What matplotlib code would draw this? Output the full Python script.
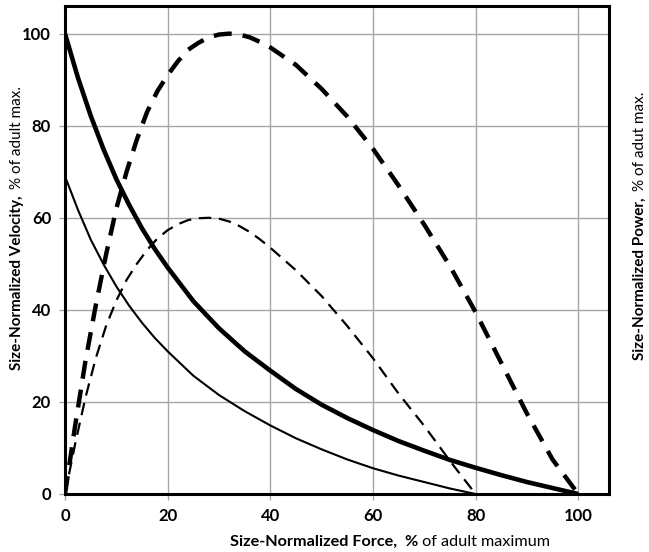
import matplotlib
matplotlib.use("Agg")
import matplotlib.pyplot as plt

plt.rcParams['font.family'] = ['Lato', 'DejaVu Sans']
plt.rcParams['lines.scale_dashes'] = False

# velocity curves
force_adult = [0, 2.5, 5, 7.5, 10, 12.5, 15, 17.5, 20, 25, 30, 35, 40, 45, 50,
               55, 60, 65, 70, 75, 80, 85, 90, 95, 100]
vel_adult = [100, 90.5, 82.2, 74.9, 68.4, 62.8, 57.7, 53.2, 49.2, 41.9, 36.0,
             31.0, 26.8, 22.8, 19.4, 16.5, 13.9, 11.5, 9.4, 7.4, 5.7, 4.1,
             2.6, 1.3, 0]

force_young = [0, 2.5, 5, 7.5, 10, 12.5, 15, 17.5, 20, 25, 30, 35, 40, 45, 50,
               55, 60, 65, 70, 75, 80]
vel_young = [69, 61.8, 55.3, 49.9, 45.1, 40.9, 37.2, 33.9, 31.0, 25.7, 21.5,
             18.0, 14.9, 12.1, 9.7, 7.5, 5.6, 4.0, 2.6, 1.2, 0]

# power curves
pforce_adult = [0, 2, 4, 6, 8, 10, 12, 14, 16, 18, 20, 22, 24, 26, 28, 30, 32,
                34, 36, 38, 40, 45, 50, 55, 60, 65, 70, 75, 80, 85, 90, 95, 100]
pow_adult = [0, 15, 29, 41, 52, 62, 70, 77, 83, 87.5, 91, 94, 96.5, 98, 99.2,
             99.8, 100, 99.8, 99.2, 98.2, 97, 93.2, 88, 82, 75, 67, 58.5, 49.5,
             39.5, 28.5, 17.5, 7.5, 0]

pforce_young = [0, 2, 4, 6, 8, 10, 12, 14, 16, 18, 20, 22, 24, 26, 28, 30, 32,
                34, 36, 38, 40, 45, 50, 55, 60, 65, 70, 75, 80]
pow_young = [0, 11, 21, 29.5, 36.5, 42, 46.5, 50, 53, 55.5, 57.3, 58.6, 59.5,
             59.9, 60, 59.8, 59.2, 58.2, 56.9, 55.3, 53.5, 48.6, 43, 36.5, 29.5,
             21.8, 14.8, 7.2, 0]

ticks = [0, 20, 40, 60, 80, 100]

fig = plt.figure(figsize=(6.49, 5.52), dpi=100)
ax = fig.add_axes([65/649, 1 - 494/552, (609 - 65)/649, (494 - 6)/552])

ax.plot(force_adult, vel_adult, color='black', lw=3.3, solid_capstyle='butt', zorder=3)
ax.plot(force_young, vel_young, color='black', lw=1.5, zorder=3)
ax.plot(pforce_adult, pow_adult, color='black', lw=3.2, dashes=(13, 8), zorder=3)
ax.plot(pforce_young, pow_young, color='black', lw=1.6, dashes=(9, 5.5), zorder=3)

ax.set_xlim(0, 106)
ax.set_ylim(0, 106)
ax.set_xticks(ticks)
ax.set_yticks(ticks)
ax.grid(True, color='#a6a6a6', lw=1.0)
ax.set_axisbelow(True)
for s in ax.spines.values():
    s.set_linewidth(2.2)
    s.set_color('black')
ax.tick_params(length=4, width=1, color='#a6a6a6', labelsize=12, pad=6)
for lab in ax.get_xticklabels() + ax.get_yticklabels():
    lab.set_fontweight('bold')

# axis titles with a bold part and a normal part
fs = 11
t1 = fig.text(230/649, 1 - 546/552, 'Size-Normalized Force,  %', fontsize=11.7,
              fontweight='bold', ha='left', va='baseline')
t2 = fig.text(0, 0, '', fontsize=11.7)
tl1 = fig.text(21/649, 1 - 370/552, 'Size-Normalized Velocity,', fontsize=fs,
               fontweight='bold', rotation=90, rotation_mode='anchor',
               ha='left', va='baseline')
tr1 = fig.text(644/649, 1 - 360/552, 'Size-Normalized Power,', fontsize=fs,
               fontweight='bold', rotation=90, rotation_mode='anchor',
               ha='left', va='baseline')

fig.canvas.draw()
r = fig.canvas.get_renderer()
inv = fig.transFigure.inverted()

bb = t1.get_window_extent(r)
x_end = inv.transform((bb.x1, bb.y0))[0]
t2.set_position((x_end, 1 - 546/552))
t2.set_text(' of adult maximum')
t2.set_va('baseline')

bb = tl1.get_window_extent(r)
y_end = inv.transform((bb.x0, bb.y1))[1]
fig.text(21/649, y_end + 6/552, '% of adult max.', fontsize=fs, rotation=90,
         rotation_mode='anchor', ha='left', va='baseline')

bb = tr1.get_window_extent(r)
y_end = inv.transform((bb.x0, bb.y1))[1]
fig.text(644/649, y_end + 6/552, '% of adut max.', fontsize=fs, rotation=90,
         rotation_mode='anchor', ha='left', va='baseline')

fig.savefig('out.png', dpi=100)
